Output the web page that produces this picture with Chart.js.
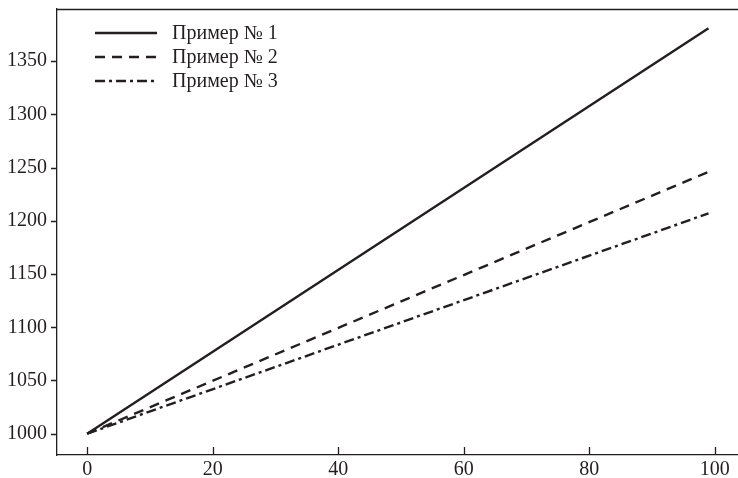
<!DOCTYPE html>
<html>
<head>
<meta charset="utf-8">
<script src="https://cdn.jsdelivr.net/npm/chart.js@4/dist/chart.umd.min.js"></script>
<style>
  html, body { margin: 0; padding: 0; background: #fff; }
  #wrap { width: 738px; height: 478px; }
</style>
</head>
<body>
<div id="wrap"><canvas id="myChart"></canvas></div>
<script>
// данные
var xValues = [0, 99];
var series1 = [1000, 1381];
var series2 = [1000, 1246];
var series3 = [1000, 1207];
var seriesLabels = ['Пример № 1', 'Пример № 2', 'Пример № 3'];
var xTicks = [0, 20, 40, 60, 80, 100];
var yTicks = [1000, 1050, 1100, 1150, 1200, 1250, 1300, 1350];

var ink = '#231f20';
var serif = "'Liberation Serif', 'DejaVu Serif', serif";

function toPoints(ys) {
    return xValues.map(function (x, i) { return { x: x, y: ys[i] }; });
}

var dashes = [[], [10, 7], [10, 4, 3, 4]];
var allSeries = [series1, series2, series3];

var datasets = allSeries.map(function (s, i) {
    return {
        label: seriesLabels[i],
        data: toPoints(s),
        borderColor: ink,
        borderWidth: 2.4,
        borderDash: dashes[i],
        pointRadius: 0,
        fill: false,
        tension: 0
    };
});

// верхняя рамка и засечки: внутрь по оси X, наружу по оси Y
var tickMarks = {
    id: 'tickMarks',
    afterDraw: function (chart) {
        var c = chart.ctx, a = chart.chartArea;
        var xs = chart.scales.x, ys = chart.scales.y;
        c.save();
        c.strokeStyle = ink;
        c.lineWidth = 1.3;
        c.beginPath();
        c.moveTo(a.left, a.top + 0.5);
        c.lineTo(a.right, a.top + 0.5);
        xTicks.forEach(function (v) {
            var px = Math.round(xs.getPixelForValue(v)) + 0.5;
            c.moveTo(px, a.bottom);
            c.lineTo(px, a.bottom - 8);
        });
        yTicks.forEach(function (v) {
            var py = Math.round(ys.getPixelForValue(v)) + 0.5;
            c.moveTo(a.left, py);
            c.lineTo(a.left - 6, py);
        });
        c.stroke();
        c.restore();
    }
};

// легенда внутри области графика
var innerLegend = {
    id: 'innerLegend',
    afterDraw: function (chart) {
        var c = chart.ctx, a = chart.chartArea;
        c.save();
        c.font = '20px ' + serif;
        c.textBaseline = 'middle';
        c.fillStyle = ink;
        chart.data.datasets.forEach(function (ds, i) {
            var y = a.top + 24 + i * 24;
            var x0 = a.left + 38;
            c.strokeStyle = ink;
            c.lineWidth = ds.borderWidth;
            c.setLineDash(ds.borderDash);
            c.beginPath();
            c.moveTo(x0, y);
            c.lineTo(x0 + 62, y);
            c.stroke();
            c.setLineDash([]);
            c.fillText(ds.label, x0 + 77, y + 1);
        });
        c.restore();
    }
};

var ctx = document.getElementById('myChart').getContext('2d');
var myChart = new Chart(ctx, {
    type: 'line',
    data: { datasets: datasets },
    options: {
        responsive: true,
        maintainAspectRatio: false,
        animation: false,
        layout: { padding: { top: 9, right: 0, left: 0, bottom: 0 } },
        plugins: {
            legend: { display: false },
            tooltip: { enabled: false }
        },
        scales: {
            x: {
                type: 'linear',
                min: -4.8,
                max: 103.7,
                afterBuildTicks: function (scale) {
                    scale.ticks = xTicks.map(function (v) { return { value: v }; });
                },
                afterFit: function (scale) {
                    scale.height = 23;
                    scale.paddingLeft = 0;
                    scale.paddingRight = 0;
                },
                grid: { display: false, drawTicks: false },
                border: { display: true, color: ink, width: 1.3 },
                ticks: {
                    color: ink,
                    padding: 3,
                    maxRotation: 0,
                    font: { family: serif, size: 20 }
                }
            },
            y: {
                min: 980,
                max: 1399,
                afterBuildTicks: function (scale) {
                    scale.ticks = yTicks.map(function (v) { return { value: v }; });
                },
                afterFit: function (scale) {
                    scale.width = 57;
                    scale.paddingTop = 0;
                    scale.paddingBottom = 0;
                },
                grid: { display: false, drawTicks: false },
                border: { display: true, color: ink, width: 1.3 },
                ticks: {
                    color: ink,
                    padding: 10,
                    font: { family: serif, size: 20 },
                    callback: function (v) { return String(v); }
                }
            }
        }
    },
    plugins: [tickMarks, innerLegend]
});
</script>
</body>
</html>
